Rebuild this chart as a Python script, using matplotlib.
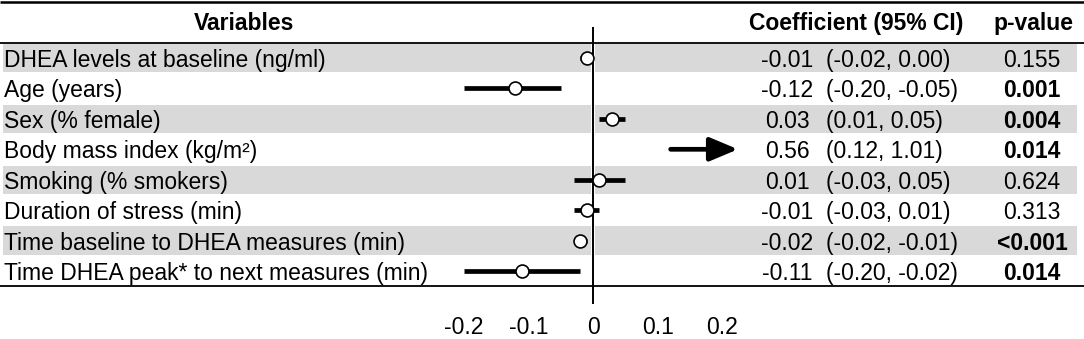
import matplotlib
matplotlib.use("Agg")
import matplotlib.pyplot as plt

plt.rcParams['font.family'] = ['Liberation Sans', 'DejaVu Sans']
plt.rcParams['axes.unicode_minus'] = False

# ---------------- data ----------------
variables = [
    "DHEA levels at baseline (ng/ml)",
    "Age (years)",
    "Sex (% female)",
    "Body mass index (kg/m²)",
    "Smoking (% smokers)",
    "Duration of stress (min)",
    "Time baseline to DHEA measures (min)",
    "Time DHEA peak* to next measures (min)",
]
coef = [-0.01, -0.12, 0.03, 0.56, 0.01, -0.01, -0.02, -0.11]
ci_low = [-0.02, -0.20, 0.01, 0.12, -0.03, -0.03, -0.02, -0.20]
ci_high = [0.00, -0.05, 0.05, 1.01, 0.05, 0.01, -0.01, -0.02]
p_labels = ["0.155", "0.001", "0.004", "0.014", "0.624", "0.313", "<0.001", "0.014"]
p_bold = [False, True, True, True, False, False, True, True]
tick_values = [-0.2, -0.1, 0, 0.1, 0.2]
tick_labels = ["-0.2", "-0.1", "0", "0.1", "0.2"]

# ---------------- layout ----------------
W, H = 1084, 339
FS = 16.5
ROW0_PX, PITCH = 58.0, 30.43
ZERO_PX, PX_PER_UNIT = 593.0, 647.0
AX_L, AX_R, AX_T, AX_B = 440.0, 760.0, 27.0, 304.0
AXIS_CLIP = (738.0 - ZERO_PX) / PX_PER_UNIT


def px2row(p):
    return (p - ROW0_PX) / PITCH


fig = plt.figure(figsize=(W / 100, H / 100), dpi=100)
bg = fig.add_axes([0, 0, 1, 1])
bg.set_xlim(0, W)
bg.set_ylim(px2row(H), px2row(0))
bg.axis('off')

n = len(variables)
rows = list(range(n))

# alternating bands
for i in rows:
    if i % 2 == 0:
        bg.barh(i, 1074, left=3, height=0.93, color='#d9d9d9', zorder=0)

# table rules
bg.hlines(px2row(2), 0, W, colors='black', lw=1.8)
bg.hlines([px2row(43), px2row(286)], 0, W, colors='black', lw=1.3)

# headers
hy = px2row(30)
bg.text(244, hy, "Variables", ha='center', va='baseline', fontsize=FS, fontweight='bold')
bg.text(749, hy, "Coefficient (95% CI)", ha='left', va='baseline', fontsize=FS, fontweight='bold')
bg.text(1033, hy, "p-value", ha='center', va='baseline', fontsize=FS, fontweight='bold')

# row texts
off = 9.0 / PITCH
for i in rows:
    y = i + off
    bg.text(4, y, variables[i], ha='left', va='baseline', fontsize=FS)
    bg.text(787, y, f"{coef[i]:.2f}", ha='center', va='baseline', fontsize=FS)
    bg.text(826, y, f"({ci_low[i]:.2f}, {ci_high[i]:.2f})", ha='left', va='baseline', fontsize=FS)
    bg.text(1032, y, p_labels[i], ha='center', va='baseline', fontsize=FS,
            fontweight='bold' if p_bold[i] else 'normal')

# ---------------- forest axes ----------------
ax = fig.add_axes([AX_L / W, (H - AX_B) / H, (AX_R - AX_L) / W, (AX_B - AX_T) / H])
ax.set_facecolor('none')
ax.set_xlim((AX_L - ZERO_PX) / PX_PER_UNIT, (AX_R - ZERO_PX) / PX_PER_UNIT)
ax.set_ylim(px2row(AX_B), px2row(AX_T))
for s in ax.spines.values():
    s.set_visible(False)
ax.set_yticks([])
ax.set_xticks(tick_values)
ax.set_xticklabels(tick_labels, fontsize=FS)
ax.tick_params(axis='x', length=0, pad=8.5)

ax.vlines(0, -0.47, n - 0.53, colors='white', lw=2.9, zorder=1)
ax.axvline(0, color='black', lw=1.4, zorder=2)

for i in rows:
    if ci_high[i] > AXIS_CLIP:
        ax.annotate('', xy=(AXIS_CLIP, i), xytext=(ci_low[i], i),
                    arrowprops=dict(arrowstyle='-|>,head_length=1.0,head_width=0.42',
                                    lw=3.4, color='black', shrinkA=0, shrinkB=0,
                                    mutation_scale=17), zorder=3)
    else:
        ax.plot([ci_low[i], ci_high[i]], [i, i], color='black', lw=3.4,
                solid_capstyle='butt', zorder=3)
        ax.plot(coef[i], i, 'o', ms=9.3, mfc='white', mec='black', mew=1.2, zorder=4)

fig.savefig("out.png", dpi=100)
